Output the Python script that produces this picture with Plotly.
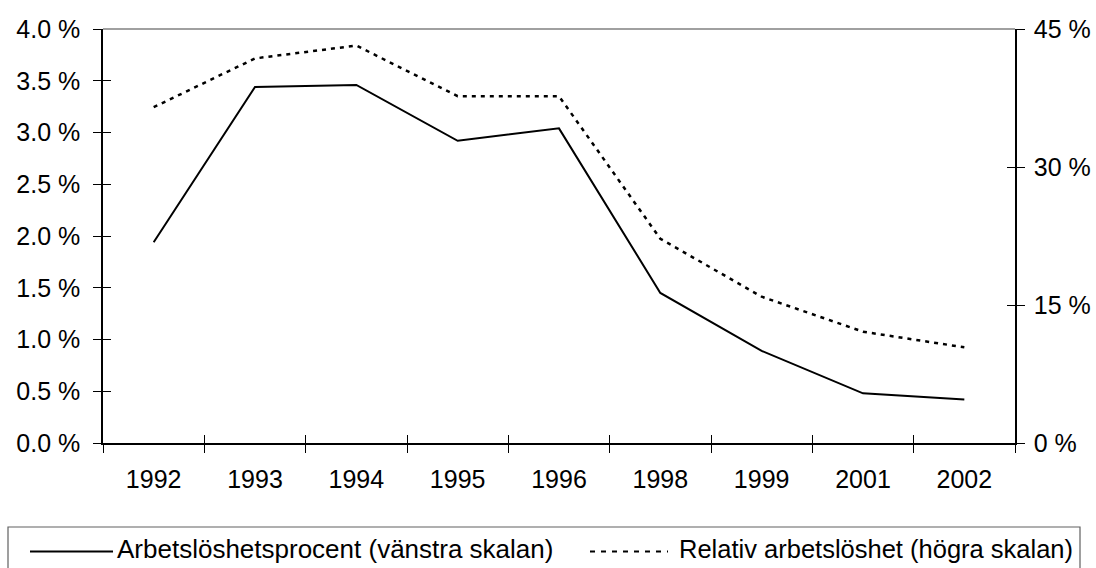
import plotly.graph_objects as go

years = ["1992", "1993", "1994", "1995", "1996", "1998", "1999", "2001", "2002"]
arbetsloshet_pct = [1.94, 3.44, 3.46, 2.92, 3.04, 1.45, 0.89, 0.48, 0.42]
relativ_pct = [36.5, 41.8, 43.2, 37.7, 37.7, 22.2, 15.9, 12.1, 10.4]
left_ticks = [0.0, 0.5, 1.0, 1.5, 2.0, 2.5, 3.0, 3.5, 4.0]
right_ticks = [0, 15, 30, 45]
name_left = "Arbetslöshetsprocent (vänstra skalan)"
name_right = "Relativ arbetslöshet (högra skalan)"

W, H = 1096, 568
ML, MR, MT, MB = 103, 81, 29, 125
PW, PH = W - ML - MR, H - MT - MB
FONT = "Liberation Sans, Arial, sans-serif"
FS = 25
FS_LEG = 26


def fx(px):
    return (px - ML) / PW


def fy(py):
    return (H - MB - py) / PH


fig = go.Figure()
fig.add_trace(go.Scatter(x=years, y=arbetsloshet_pct, name=name_left, mode="lines",
                         line=dict(color="black", width=2), showlegend=False,
                         xaxis="x", yaxis="y"))
fig.add_trace(go.Scatter(x=years, y=relativ_pct, name=name_right, mode="lines",
                         line=dict(color="black", width=2.5, dash="4px,5px"), showlegend=False,
                         xaxis="x", yaxis="y2"))

common_tick = dict(ticklen=8, tickwidth=1, tickcolor="black", showgrid=False, zeroline=False)

fig.update_layout(
    width=W, height=H,
    margin=dict(l=ML, r=MR, t=MT, b=MB, pad=0, autoexpand=False),
    paper_bgcolor="white", plot_bgcolor="white",
    font=dict(family=FONT, size=FS, color="black"),
    xaxis=dict(type="category", categoryorder="array", categoryarray=years,
               range=[-0.5, len(years) - 0.5], tickson="boundaries", ticks="outside",
               showline=True, linecolor="black", linewidth=1.5, ticklabelstandoff=13,
               **common_tick),
    xaxis2=dict(type="category", categoryorder="array", categoryarray=years,
                range=[-0.5, len(years) - 0.5], tickson="boundaries", ticks="inside",
                overlaying="x", anchor="y", showticklabels=False, showline=False,
                **common_tick),
    yaxis=dict(range=[0, 4.0], tickmode="array", tickvals=left_ticks,
               ticktext=[f"{v:.1f} %" for v in left_ticks],
               ticks="outside", showline=True, linecolor="black", linewidth=1.5,
               ticklabelstandoff=8, **common_tick),
    yaxis2=dict(range=[0, 45], tickmode="array", tickvals=right_ticks,
                ticktext=[f"{v} %" for v in right_ticks], side="right",
                overlaying="y", anchor="x", ticks="outside", showline=True,
                linecolor="black", linewidth=1.5, ticklabelstandoff=4, **common_tick),
    yaxis3=dict(range=[0, 4.0], tickmode="array", tickvals=left_ticks, ticks="inside",
                overlaying="y", anchor="x", side="left", showticklabels=False,
                showline=False, **common_tick),
    yaxis4=dict(range=[0, 45], tickmode="array", tickvals=right_ticks, ticks="inside",
                overlaying="y", anchor="x", side="right", showticklabels=False,
                showline=False, **common_tick),
)

# invisible traces so the overlay (inner-tick) axes render
fig.add_trace(go.Scatter(x=years, y=arbetsloshet_pct, xaxis="x2", yaxis="y3", mode="none",
                         showlegend=False, hoverinfo="skip"))
fig.add_trace(go.Scatter(x=years, y=relativ_pct, xaxis="x2", yaxis="y4", mode="none",
                         showlegend=False, hoverinfo="skip"))

shapes = [
    dict(type="line", xref="paper", yref="paper", x0=0, x1=1, y0=1, y1=1,
         line=dict(color="#808080", width=1.5)),
    dict(type="rect", xref="paper", yref="paper", x0=fx(8), x1=fx(1080), y0=fy(527), y1=fy(580),
         line=dict(color="#606060", width=1.2), fillcolor="rgba(0,0,0,0)"),
    dict(type="line", xref="paper", yref="paper", x0=fx(30), x1=fx(113), y0=fy(551.5), y1=fy(551.5),
         line=dict(color="black", width=2)),
    dict(type="line", xref="paper", yref="paper", x0=fx(590), x1=fx(668), y0=fy(551.5), y1=fy(551.5),
         line=dict(color="black", width=2, dash="5px,6px")),
]
annotations = [
    dict(xref="paper", yref="paper", x=fx(115), y=fy(549), text=name_left, showarrow=False,
         xanchor="left", yanchor="middle", font=dict(family=FONT, size=FS_LEG, color="black")),
    dict(xref="paper", yref="paper", x=fx(677), y=fy(549), text=name_right, showarrow=False,
         xanchor="left", yanchor="middle", font=dict(family=FONT, size=25.5, color="black")),
]
fig.update_layout(shapes=shapes, annotations=annotations)

fig.write_html("out.html", config={"displayModeBar": False},
               post_script="document.body.style.margin='0px';")
